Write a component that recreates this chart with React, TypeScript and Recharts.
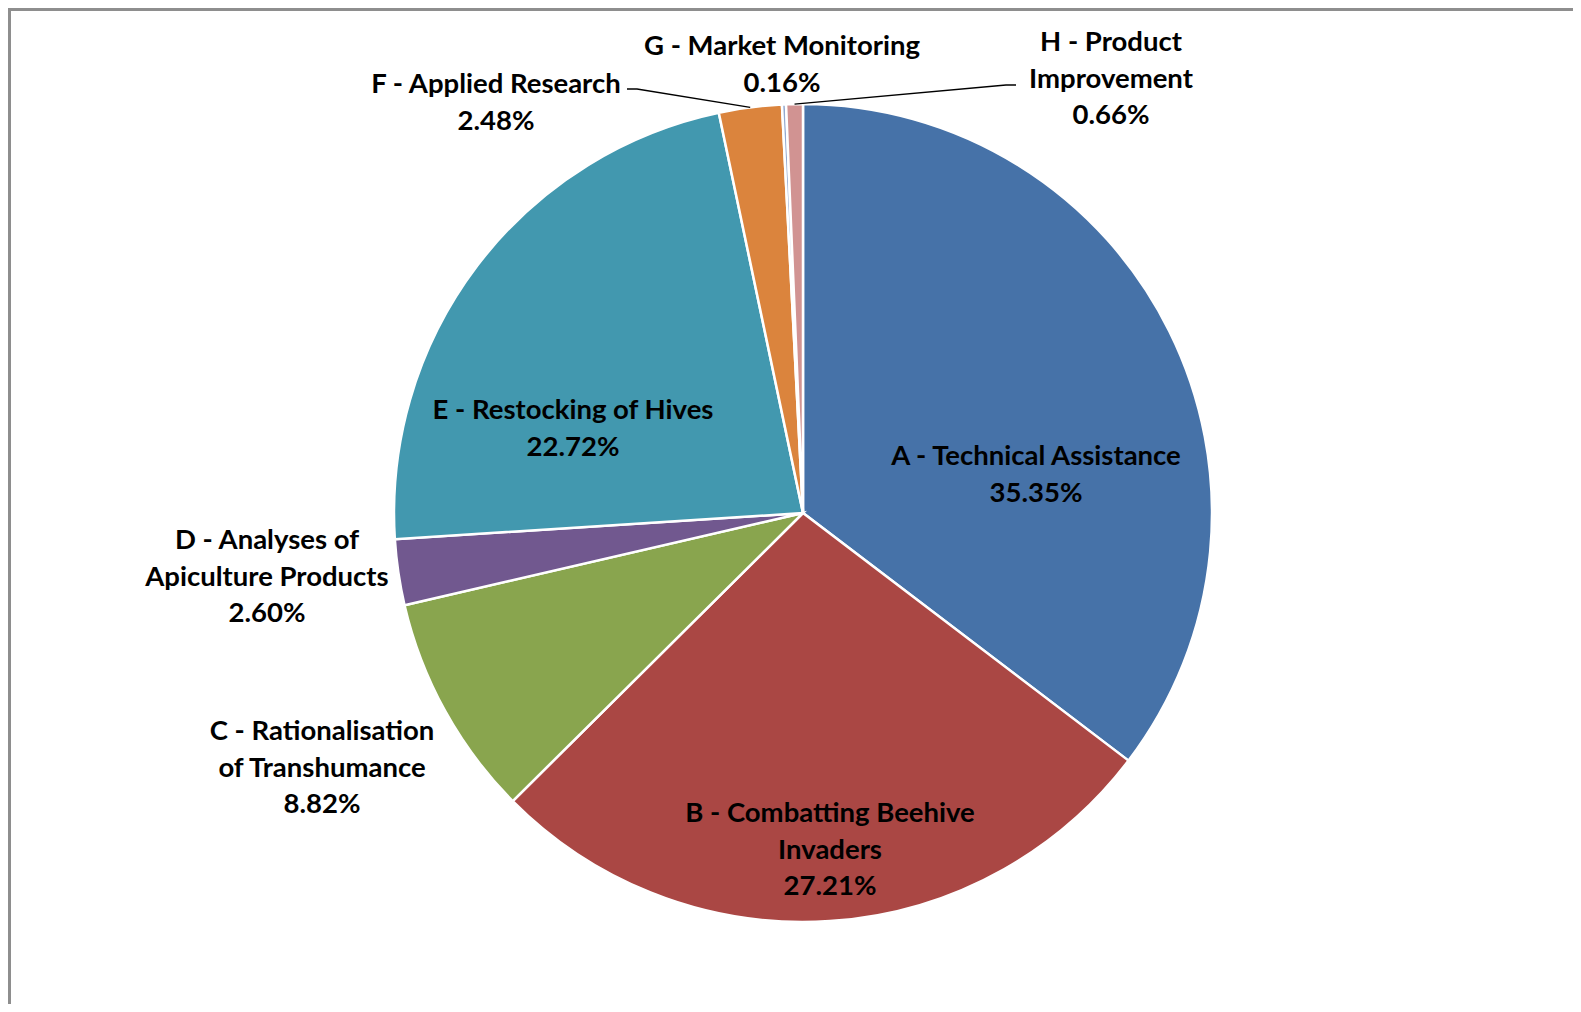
import { PieChart, Pie, Cell } from "recharts";

const categories = [
  "A - Technical Assistance",
  "B - Combatting Beehive Invaders",
  "C - Rationalisation of Transhumance",
  "D - Analyses of Apiculture Products",
  "E - Restocking of Hives",
  "F - Applied Research",
  "G - Market Monitoring",
  "H - Product Improvement"
];

// how each category name wraps in the picture
const labelLines = [
  ["A - Technical Assistance"],
  ["B - Combatting Beehive", "Invaders"],
  ["C - Rationalisation", "of Transhumance"],
  ["D - Analyses of", "Apiculture Products"],
  ["E - Restocking of Hives"],
  ["F - Applied Research"],
  ["G - Market Monitoring"],
  ["H - Product", "Improvement"]
];

const shares = [35.35, 27.21, 8.82, 2.6, 22.72, 2.48, 0.16, 0.66];

const colors = ["#4672A8", "#AA4744", "#89A54E", "#71588F", "#4298AF", "#DB843D", "#93A9CF", "#D19392"];

const data = categories.map((name, i) => ({ name, value: shares[i] }));

// label block centres, relative to the pie centre
const placement = [
  { dx: 233, dy: -40 },
  { dx: 27, dy: 335 },
  { dx: -481, dy: 253 },
  { dx: -536, dy: 62 },
  { dx: -230, dy: -86 },
  { dx: -307, dy: -412 },
  { dx: -21, dy: -450 },
  { dx: 308, dy: -436 }
];

// leader lines: start and elbow relative to the pie centre
const leaders: Record<number, number[]> = {
  5: [-176, -424, -166, -424],
  7: [213, -428, 203, -428]
};

const LINE_H = 36.3;
const RAD = Math.PI / 180;

function renderLabel(props: any) {
  const { cx, cy, midAngle, outerRadius, index, value } = props;
  const p = placement[index];
  const lines = [...labelLines[index], value.toFixed(2) + "%"];
  const x = cx + p.dx;
  const top = cy + p.dy - ((lines.length - 1) * LINE_H) / 2;
  const ld = leaders[index];
  let leader = null;
  if (ld) {
    const ex = cx + outerRadius * Math.cos(-midAngle * RAD);
    const ey = cy + outerRadius * Math.sin(-midAngle * RAD);
    leader = (
      <polyline
        points={`${cx + ld[0]},${cy + ld[1]} ${cx + ld[2]},${cy + ld[3]} ${ex},${ey}`}
        fill="none"
        stroke="#000"
        strokeWidth={1.3}
      />
    );
  }
  return (
    <g key={"lbl" + index}>
      {leader}
      {lines.map((t, j) => (
        <text
          key={j}
          x={x}
          y={top + j * LINE_H}
          textAnchor="middle"
          dominantBaseline="central"
          fontFamily="Lato, 'Open Sans', sans-serif"
          fontWeight={700}
          fontSize={27.5}
          fill="#000"
        >
          {t}
        </text>
      ))}
    </g>
  );
}

export default function App() {
  return (
    <div
      style={{
        width: 1562,
        height: 993,
        borderTop: "3px solid #8e8e8e",
        borderLeft: "3px solid #8e8e8e",
        background: "#fff",
        overflow: "hidden"
      }}
    >
      <PieChart width={1562} height={993}>
        <Pie
          data={data}
          dataKey="value"
          nameKey="name"
          cx={787}
          cy={497}
          outerRadius={409}
          startAngle={90}
          endAngle={-270}
          stroke="#fff"
          strokeWidth={2.5}
          label={renderLabel}
          labelLine={false}
          isAnimationActive={false}
        >
          {data.map((d, i) => (
            <Cell key={d.name} fill={colors[i]} />
          ))}
        </Pie>
      </PieChart>
    </div>
  );
}
